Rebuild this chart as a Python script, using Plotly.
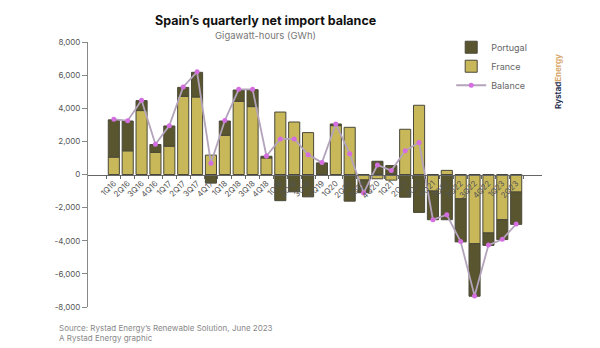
import plotly.graph_objects as go

quarters = ["1Q16","2Q16","3Q16","4Q16","1Q17","2Q17","3Q17","4Q17",
            "1Q18","2Q18","3Q18","4Q18","1Q19","2Q19","3Q19","4Q19",
            "1Q20","2Q20","3Q20","4Q20","1Q21","2Q21","3Q21","4Q21",
            "1Q22","2Q22","3Q22","4Q22","1Q23","2Q23"]

france = [1050, 1430, 3860, 1340, 1710, 4720, 4680, 1170,
          2370, 4420, 4100, 1000, 3770, 3170, 2530, 0,
          2950, 2850, -330, -260, -340, 2730, 4180, -1000,
          250, -1470, -4180, -3530, -2730, -1060]

portugal = [2250, 1800, 600, 470, 1220, 540, 1490, -520,
            860, 680, 1020, 100, -1580, -1050, -1350, 700,
            100, -1610, -770, 800, 540, -1370, -2290, -1730,
            -2730, -2600, -3170, -750, -1200, -1950]

balance = [3330, 3250, 4480, 1830, 2950, 5290, 6200, 680,
           3260, 5140, 5140, 1120, 2150, 2150, 1200, 720,
           3050, 1260, -1120, 580, 240, 1430, 1930, -2730,
           -2430, -4050, -7330, -4260, -3910, -2990]

y_ticks = [8000, 6000, 4000, 2000, 0, -2000, -4000, -6000, -8000]
y_tick_text = ["8,000", "6,000", "4,000", "2,000", "0", "-2,000", "-4,000", "-6,000", "-8,000"]

FONT = "Inter"
outline = dict(color="#4a4838", width=1)

fig = go.Figure()
fig.add_trace(go.Bar(x=quarters, y=france, name="France", legendrank=2,
                     marker=dict(color="#c8b85a", line=outline)))
fig.add_trace(go.Bar(x=quarters, y=portugal, name="Portugal", legendrank=1,
                     marker=dict(color="#58552f", line=outline)))
fig.add_trace(go.Scatter(x=quarters, y=balance, name="Balance", legendrank=3,
                         mode="lines+markers",
                         line=dict(color="#b3a3bb", width=1.8),
                         marker=dict(color="#d46ee0", size=5)))

fig.update_layout(
    width=600, height=348,
    margin=dict(l=88, r=58, t=42, b=41),
    paper_bgcolor="white", plot_bgcolor="white",
    barmode="relative", bargap=0.2,
    showlegend=True,
    legend=dict(x=0.8, y=1.035, xanchor="left", yanchor="top",
                font=dict(family=FONT, size=9, color="#666"),
                tracegroupgap=0, itemwidth=30, bgcolor="rgba(0,0,0,0)"),
    font=dict(family=FONT, color="#555"),
    hovermode=False,
)

fig.update_yaxes(range=[-8000, 8000], tickvals=y_ticks, ticktext=y_tick_text,
                 showgrid=False, zeroline=False, showline=True,
                 linecolor="#888", linewidth=1, ticks="outside", ticklen=5,
                 tickcolor="#888", tickfont=dict(family=FONT, size=8, color="#555"))

fig.update_xaxes(type="category", anchor="free", position=0.5,
                 showline=True, linecolor="#666", linewidth=1,
                 ticks="outside", tickson="boundaries", ticklen=3, tickcolor="#666",
                 tickangle=-45, showgrid=False, zeroline=False,
                 tickfont=dict(family=FONT, size=8, color="#555"))

fig.add_annotation(text="<b>Spain’s quarterly net import balance</b>",
                   xref="paper", yref="paper", x=(265-88)/454, y=1 + (42-20)/265,
                   xanchor="center", yanchor="middle", showarrow=False,
                   font=dict(family=FONT, size=12.5, color="#111"))
fig.add_annotation(text="Gigawatt-hours (GWh)",
                   xref="paper", yref="paper", x=(265-88)/454, y=1 + (42-35)/265,
                   xanchor="center", yanchor="middle", showarrow=False,
                   font=dict(family=FONT, size=9.5, color="#777"))
fig.add_annotation(text="Source: Rystad Energy’s Renewable Solution, June 2023<br>A Rystad Energy graphic",
                   xref="paper", yref="paper", x=(57-88)/454, y=-(321-307)/265,
                   xanchor="left", yanchor="top", align="left", showarrow=False,
                   font=dict(family=FONT, size=8, color="#888"))
fig.add_annotation(text="<b><span style='color:#27304f'>Rystad</span><span style='color:#d7a567'>Energy</span></b>",
                   xref="paper", yref="paper", x=(558-88)/454, y=1 - (82-42)/265,
                   xanchor="center", yanchor="middle", textangle=-90, showarrow=False,
                   font=dict(family=FONT, size=8))

fig.write_html("out.html")
